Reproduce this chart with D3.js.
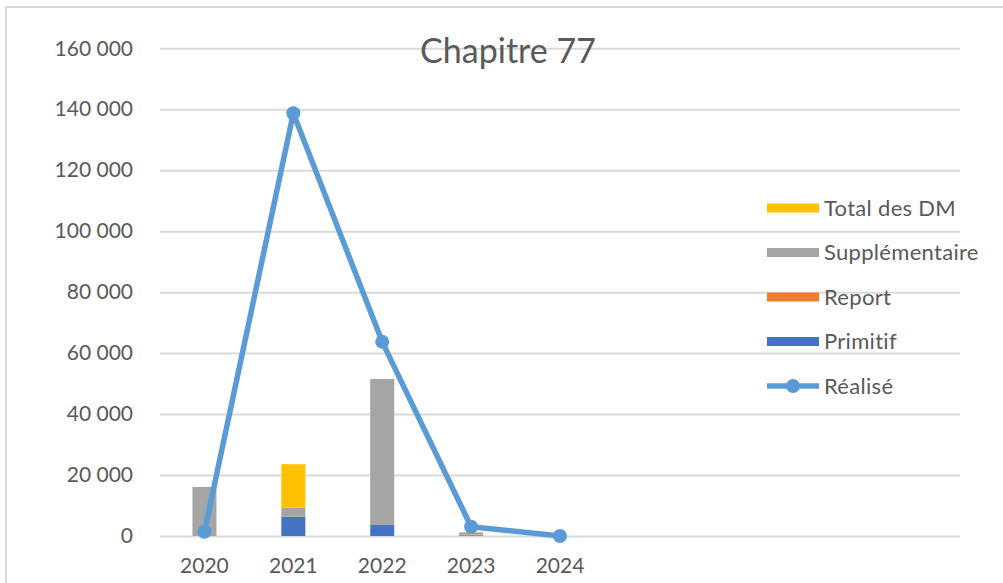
<!DOCTYPE html>
<html>
<head>
<meta charset="utf-8">
<script src="https://cdn.jsdelivr.net/npm/d3@7"></script>
<style>
  html, body { margin: 0; padding: 0; background: #fff; }
  svg { display: block; font-family: Lato, "Open Sans", sans-serif; font-variant-ligatures: none; }
</style>
</head>
<body>
<svg id="chart" width="1003" height="583"></svg>
<script>
// Budget du chapitre 77, par exercice
const years = ["2020", "2021", "2022", "2023", "2024", "", "", "", ""];
const primitif        = [0, 6300, 3600, 0, 0, 0, 0, 0, 0];
const report          = [0, 0, 0, 500, 0, 0, 0, 0, 0];
const supplementaire  = [16100, 2950, 47900, 700, 0, 0, 0, 0, 0];
const totalDM         = [0, 14300, 0, 0, 0, 0, 0, 0, 0];
const realise         = [1400, 138700, 63700, 3050, 0];
const yTicks = [0, 20000, 40000, 60000, 80000, 100000, 120000, 140000, 160000];

const seriesNames = ["Primitif", "Report", "Supplémentaire", "Total des DM"];
const seriesValues = [primitif, report, supplementaire, totalDM];
const colors = {
  "Primitif": "#4472C4",
  "Report": "#ED7D31",
  "Supplémentaire": "#A5A5A5",
  "Total des DM": "#FFC000",
  "Réalisé": "#5B9BD5"
};

const svg = d3.select("#chart");
const plot = { left: 160, right: 960, top: 48.3, bottom: 536 };

// Chart area frame
svg.append("path")
  .attr("d", `M6,1003 L6,7 L1003,7`)
  .attr("fill", "none")
  .attr("stroke", "#d9d9d9")
  .attr("stroke-width", 2);

const idx = years.map((_, i) => i);
const x = d3.scaleBand().domain(idx).range([plot.left, plot.right]).padding(0);
const y = d3.scaleLinear().domain([0, 160000]).range([plot.bottom, plot.top]);
const fr = d3.formatLocale({ decimal: ",", thousands: "\u00a0", grouping: [3], currency: ["", " €"] });
const fmt = fr.format(",d");

// Horizontal gridlines and value labels
const yAxis = d3.axisLeft(y).tickValues(yTicks).tickFormat(fmt)
  .tickSize(-(plot.right - plot.left)).tickPadding(27);
const gy = svg.append("g").attr("transform", `translate(${plot.left},0)`).call(yAxis);
gy.select(".domain").remove();
gy.selectAll(".tick line").attr("stroke", "#d9d9d9").attr("stroke-width", 2);
gy.selectAll(".tick text")
  .attr("fill", "#595959")
  .style("font-size", "21px")
  .style("font-family", "Lato, sans-serif");

// Category labels
const xAxis = d3.axisBottom(x).tickFormat(i => years[i]).tickSize(0).tickPadding(22);
const gx = svg.append("g").attr("transform", `translate(0,${plot.bottom})`).call(xAxis);
gx.select(".domain").remove();
gx.selectAll(".tick text")
  .attr("fill", "#595959")
  .style("font-size", "21px")
  .style("font-family", "Lato, sans-serif");

// Stacked bars
const table = idx.map(i => {
  const row = { i };
  seriesNames.forEach((n, k) => row[n] = seriesValues[k][i]);
  return row;
});
const stacked = d3.stack().keys(seriesNames)(table);
const barW = x.bandwidth() * 0.27;
svg.append("g").selectAll("g")
  .data(stacked)
  .join("g")
  .attr("fill", d => colors[d.key])
  .selectAll("rect")
  .data(d => d)
  .join("rect")
  .attr("x", d => x(d.data.i) + (x.bandwidth() - barW) / 2)
  .attr("width", barW)
  .attr("y", d => y(d[1]))
  .attr("height", d => Math.max(0, y(d[0]) - y(d[1])));

// Réalisé line with markers
const cx = i => x(i) + x.bandwidth() / 2;
const line = d3.line().x((d, i) => cx(i)).y(d => y(d));
svg.append("path")
  .datum(realise)
  .attr("d", line)
  .attr("fill", "none")
  .attr("stroke", colors["Réalisé"])
  .attr("stroke-width", 5.5)
  .attr("stroke-linejoin", "round");
svg.append("g").selectAll("circle")
  .data(realise)
  .join("circle")
  .attr("cx", (d, i) => cx(i))
  .attr("cy", d => y(d))
  .attr("r", 7)
  .attr("fill", colors["Réalisé"]);

// Title
svg.append("text")
  .attr("x", 508)
  .attr("y", 63)
  .attr("text-anchor", "middle")
  .attr("fill", "#595959")
  .style("font-size", "34px")
  .text("Chapitre 77");

// Legend
const legendItems = ["Total des DM", "Supplémentaire", "Report", "Primitif", "Réalisé"];
const lg = svg.append("g").attr("transform", "translate(767,208)");
const item = lg.selectAll("g")
  .data(legendItems)
  .join("g")
  .attr("transform", (d, i) => `translate(0,${i * 44.5})`);
item.filter(d => d !== "Réalisé").append("rect")
  .attr("x", 0).attr("y", -4.5).attr("width", 52).attr("height", 9)
  .attr("fill", d => colors[d]);
const lineItem = item.filter(d => d === "Réalisé");
lineItem.append("line")
  .attr("x1", 0).attr("x2", 52).attr("y1", 0).attr("y2", 0)
  .attr("stroke", colors["Réalisé"]).attr("stroke-width", 5.5);
lineItem.append("circle")
  .attr("cx", 26).attr("cy", 0).attr("r", 7).attr("fill", colors["Réalisé"]);
item.append("text")
  .attr("x", 57)
  .attr("y", 0)
  .attr("dy", "0.35em")
  .attr("fill", "#595959")
  .style("font-size", "22px")
  .style("letter-spacing", "0.3px")
  .text(d => d);
</script>
</body>
</html>
